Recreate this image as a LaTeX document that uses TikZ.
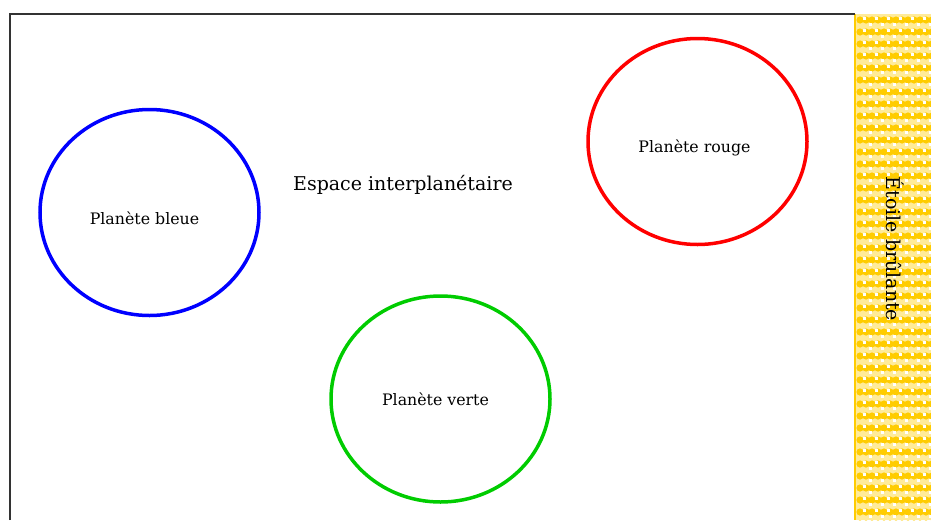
\documentclass[tikz,border=0pt]{standalone}
\usetikzlibrary{shapes.geometric}
\usepackage{fontspec}
\setmainfont{DejaVu Serif}
\definecolor{star}{HTML}{FFCC00}
\definecolor{frame}{HTML}{333333}
\definecolor{pgreen}{HTML}{00CC00}
\begin{document}
\begin{tikzpicture}[x=1pt,y=-1pt,
  planet/.style={draw,line width=3.5pt,ellipse,minimum width=219pt,minimum height=206pt,inner sep=0pt},
  lbl/.style={font=\fontsize{15.8}{18}\selectfont},
  big/.style={font=\fontsize{19}{22}\selectfont}]
\useasboundingbox (0,0) rectangle (931,520);
% star band
\begin{scope}
\clip (854,14) rectangle (931,520);
\fill[star!40] (854,14) rectangle (931,520);
\foreach \i in {0,...,13}{
  \foreach \j in {0,...,43}{
    \fill[star] (860+\i*6,20+\j*12) circle (3.6pt);
  }
}
\foreach \i in {0,...,6}{
  \foreach \j in {0,...,43}{
    \fill[white] (863+\i*12,17+\j*12) rectangle ++(2.5,2.5);
    \fill[white] (869+\i*12,23+\j*12) rectangle ++(2.5,2.5);
  }
}
\end{scope}
\draw[star,line width=1.5pt] (855,14) -- (855,520);
\node[big,rotate=-90] (star) at (895,249) {Étoile brûlante};
% frame
\draw[frame,line width=2pt] (10,520) -- (10,14) -- (855,14);
% planets
\node[planet,blue] (bleue) at (149.5,212.5) {};
\node[lbl] (tbleue) at (bleue) [xshift=-5pt,yshift=-6pt] {Planète bleue};
\node[planet,red] (rouge) at (697.5,141.5) {};
\node[lbl] (trouge) at (rouge) [xshift=-3pt,yshift=-6pt] {Planète rouge};
\node[planet,pgreen] (verte) at (440.5,399) {};
\node[lbl] (tverte) at (verte) [xshift=-5pt] {Planète verte};
\node[big] (espace) at (403,185) {Espace interplanétaire};
\end{tikzpicture}
\end{document}
